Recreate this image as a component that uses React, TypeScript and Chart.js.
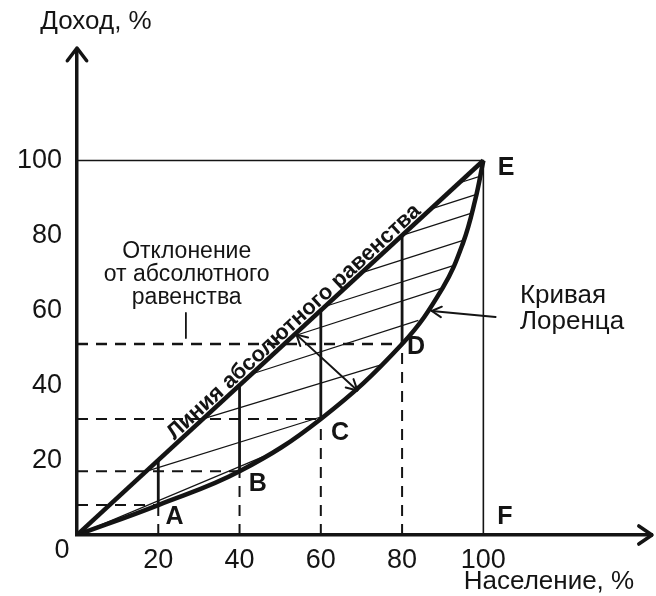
import React, { useEffect, useRef } from "react";
import { Chart, registerables } from "chart.js";
Chart.register(...registerables);

// ---- data ----
const xTicks = [20, 40, 60, 80, 100];
const yTicks = [20, 40, 60, 80, 100];
const lorenzX = [0, 20, 40, 60, 80, 90, 95, 98, 100];
const lorenzY = [0, 8, 17, 31, 51, 66, 78, 89.5, 100];
const equalityX = [0, 100];
const equalityY = [0, 100];
const pointNames = ["A", "B", "C", "D"];
const pointX = [20, 40, 60, 80];
const pointY = [8, 17, 31, 51];
const hatchX1 = [0, 17, 31, 43, 53, 61, 70, 80, 87, 94];
const hatchY1 = [0, 17, 31, 43, 53, 61, 70, 80, 87, 94];
const hatchX2 = [46, 60, 75, 84, 90, 92.8, 95.4, 97.3, 98.5, 99.5];
const hatchY2 = [21, 31.5, 45.5, 57.3, 66, 72, 78.8, 86, 91, 95.9];

const FONT = "'Liberation Sans', Arial, sans-serif";
const INK = "#141414";

function seg(x1: number, y1: number, x2: number, y2: number, width: number, dash: number[] = []) {
  return {
    data: [{ x: x1, y: y1 }, { x: x2, y: y2 }],
    showLine: true,
    borderColor: INK,
    borderWidth: width,
    borderDash: dash,
    pointRadius: 0,
    fill: false,
  };
}

function chevron(ctx: CanvasRenderingContext2D, tx: number, ty: number, ang: number, len: number, spread: number) {
  ctx.beginPath();
  ctx.moveTo(tx - len * Math.cos(ang - spread), ty - len * Math.sin(ang - spread));
  ctx.lineTo(tx, ty);
  ctx.lineTo(tx - len * Math.cos(ang + spread), ty - len * Math.sin(ang + spread));
  ctx.stroke();
}

const annotPlugin = {
  id: "annot",
  afterDraw(chart: any) {
    const { ctx, chartArea } = chart;
    const xs = chart.scales.x;
    const ys = chart.scales.y;
    const px = (v: number) => xs.getPixelForValue(v);
    const py = (v: number) => ys.getPixelForValue(v);
    ctx.save();
    ctx.strokeStyle = INK;
    ctx.fillStyle = INK;
    ctx.lineCap = "round";
    ctx.lineJoin = "round";

    ctx.lineWidth = 3.5;
    chevron(ctx, chartArea.left, chartArea.top - 2, -Math.PI / 2, 16, 0.65);
    chevron(ctx, chartArea.right, chartArea.bottom, 0, 16, 0.6);

    const text = (s: string, x: number, y: number, font: string, align: CanvasTextAlign = "center") => {
      ctx.font = font;
      ctx.textAlign = align;
      ctx.textBaseline = "middle";
      ctx.fillText(s, x, y);
    };

    text("Доход, %", 96, 22, `26px ${FONT}`);
    text("Население, %", 549, 582, `26px ${FONT}`);
    text("0", chartArea.left - 15, chartArea.bottom + 16, `27px ${FONT}`);

    const letterFont = `bold 25px ${FONT}`;
    text("A", px(24), py(4.8), letterFont);
    text("B", px(44.5), py(13.6), letterFont);
    text("C", px(64.7), py(27.2), letterFont);
    text("D", px(83.4), py(50.2), letterFont);
    text("E", px(105.6), py(98), letterFont);
    text("F", px(105.3), py(4.8), letterFont);

    const devFont = `23px ${FONT}`;
    text("Отклонение", px(27), py(75.6), devFont);
    text("от абсолютного", px(27), py(69.4), devFont);
    text("равенства", px(27), py(63.3), devFont);
    ctx.lineWidth = 1.8;
    ctx.beginPath();
    ctx.moveTo(px(26.8), py(59.3));
    ctx.lineTo(px(26.8), py(52.6));
    ctx.stroke();

    text("Кривая", px(109), py(63.8), `26px ${FONT}`, "left");
    text("Лоренца", px(109), py(56.9), `26px ${FONT}`, "left");
    ctx.lineWidth = 2;
    const ax1 = px(103), ay1 = py(58.2), ax2 = px(87.3), ay2 = py(59.8);
    ctx.beginPath();
    ctx.moveTo(ax1, ay1);
    ctx.lineTo(ax2, ay2);
    ctx.stroke();
    chevron(ctx, ax2, ay2, Math.atan2(ay2 - ay1, ax2 - ax1), 11, 0.5);

    const dx1 = px(54), dy1 = py(53.5), dx2 = px(69), dy2 = py(38.6);
    ctx.beginPath();
    ctx.moveTo(dx1, dy1);
    ctx.lineTo(dx2, dy2);
    ctx.stroke();
    const da = Math.atan2(dy2 - dy1, dx2 - dx1);
    chevron(ctx, dx2, dy2, da, 12, 0.5);
    chevron(ctx, dx1, dy1, da + Math.PI, 12, 0.5);

    const ex0 = px(equalityX[0]), ey0 = py(equalityY[0]);
    const ex1 = px(equalityX[1]), ey1 = py(equalityY[1]);
    const ang = Math.atan2(ey1 - ey0, ex1 - ex0);
    const cx = px(55), cy = py(55);
    const d = 3.5;
    ctx.translate(cx + Math.sin(ang) * d, cy - Math.cos(ang) * d);
    ctx.rotate(ang);
    ctx.font = `bold 22px ${FONT}`;
    ctx.textAlign = "center";
    ctx.textBaseline = "alphabetic";
    ctx.fillText("Линия абсолютного равенства", 0, 0);
    ctx.restore();
  },
};

export default function App() {
  const ref = useRef<HTMLCanvasElement | null>(null);
  useEffect(() => {
    if (!ref.current) return;
    const datasets: any[] = [];
    datasets.push({
      data: [{ x: 0, y: 100 }, { x: 100, y: 100 }, { x: 100, y: 0 }],
      showLine: true, borderColor: INK, borderWidth: 1.6, pointRadius: 0, fill: false,
    });
    for (let i = 0; i < hatchX1.length; i++) {
      datasets.push(seg(hatchX1[i], hatchY1[i], hatchX2[i], hatchY2[i], 1.2));
    }
    for (let i = 0; i < pointX.length; i++) {
      const w = pointNames[i] === "D" ? 2.6 : 2;
      datasets.push(seg(0, pointY[i], pointX[i], pointY[i], w, [11, 8]));
      datasets.push(seg(pointX[i], 0, pointX[i], pointY[i], 2, [11, 8]));
    }
    for (let i = 0; i < pointX.length; i++) {
      datasets.push(seg(pointX[i], pointY[i], pointX[i], pointX[i], 2.8));
    }
    datasets.push({
      data: equalityX.map((x, i) => ({ x, y: equalityY[i] })),
      showLine: true, borderColor: INK, borderWidth: 4.5, pointRadius: 0, fill: false,
    });
    datasets.push({
      data: lorenzX.map((x, i) => ({ x, y: lorenzY[i] })),
      showLine: true, borderColor: INK, borderWidth: 4.5, pointRadius: 0, fill: false,
      tension: 0.4,
    });

    const chart = new Chart(ref.current, {
      type: "scatter",
      data: { datasets },
      options: {
        animation: false,
        responsive: true,
        maintainAspectRatio: false,
        layout: { padding: { top: 50, right: 4, left: 0, bottom: 0 } },
        plugins: { legend: { display: false }, tooltip: { enabled: false } },
        scales: {
          x: {
            type: "linear", min: 0, max: 141.5,
            grid: { display: false, drawTicks: false },
            border: { display: true, color: INK, width: 3.5 },
            ticks: { font: { family: FONT, size: 27 }, color: INK, padding: 9, autoSkip: false, maxRotation: 0 },
            afterBuildTicks: (s: any) => { s.ticks = xTicks.map((v) => ({ value: v })); },
            afterFit: (s: any) => { s.height = 61; },
          },
          y: {
            type: "linear", min: 0, max: 129.5,
            grid: { display: false, drawTicks: false },
            border: { display: true, color: INK, width: 3.5 },
            ticks: { font: { family: FONT, size: 27 }, color: INK, padding: 15, autoSkip: false },
            afterBuildTicks: (s: any) => { s.ticks = yTicks.map((v) => ({ value: v })); },
            afterFit: (s: any) => { s.width = 77; },
          },
        },
      },
      plugins: [annotPlugin],
    });
    return () => chart.destroy();
  }, []);
  return (
    <div style={{ position: "fixed", left: 0, top: 0, width: 656, height: 596, background: "#fff" }}>
      <canvas ref={ref} />
    </div>
  );
}
